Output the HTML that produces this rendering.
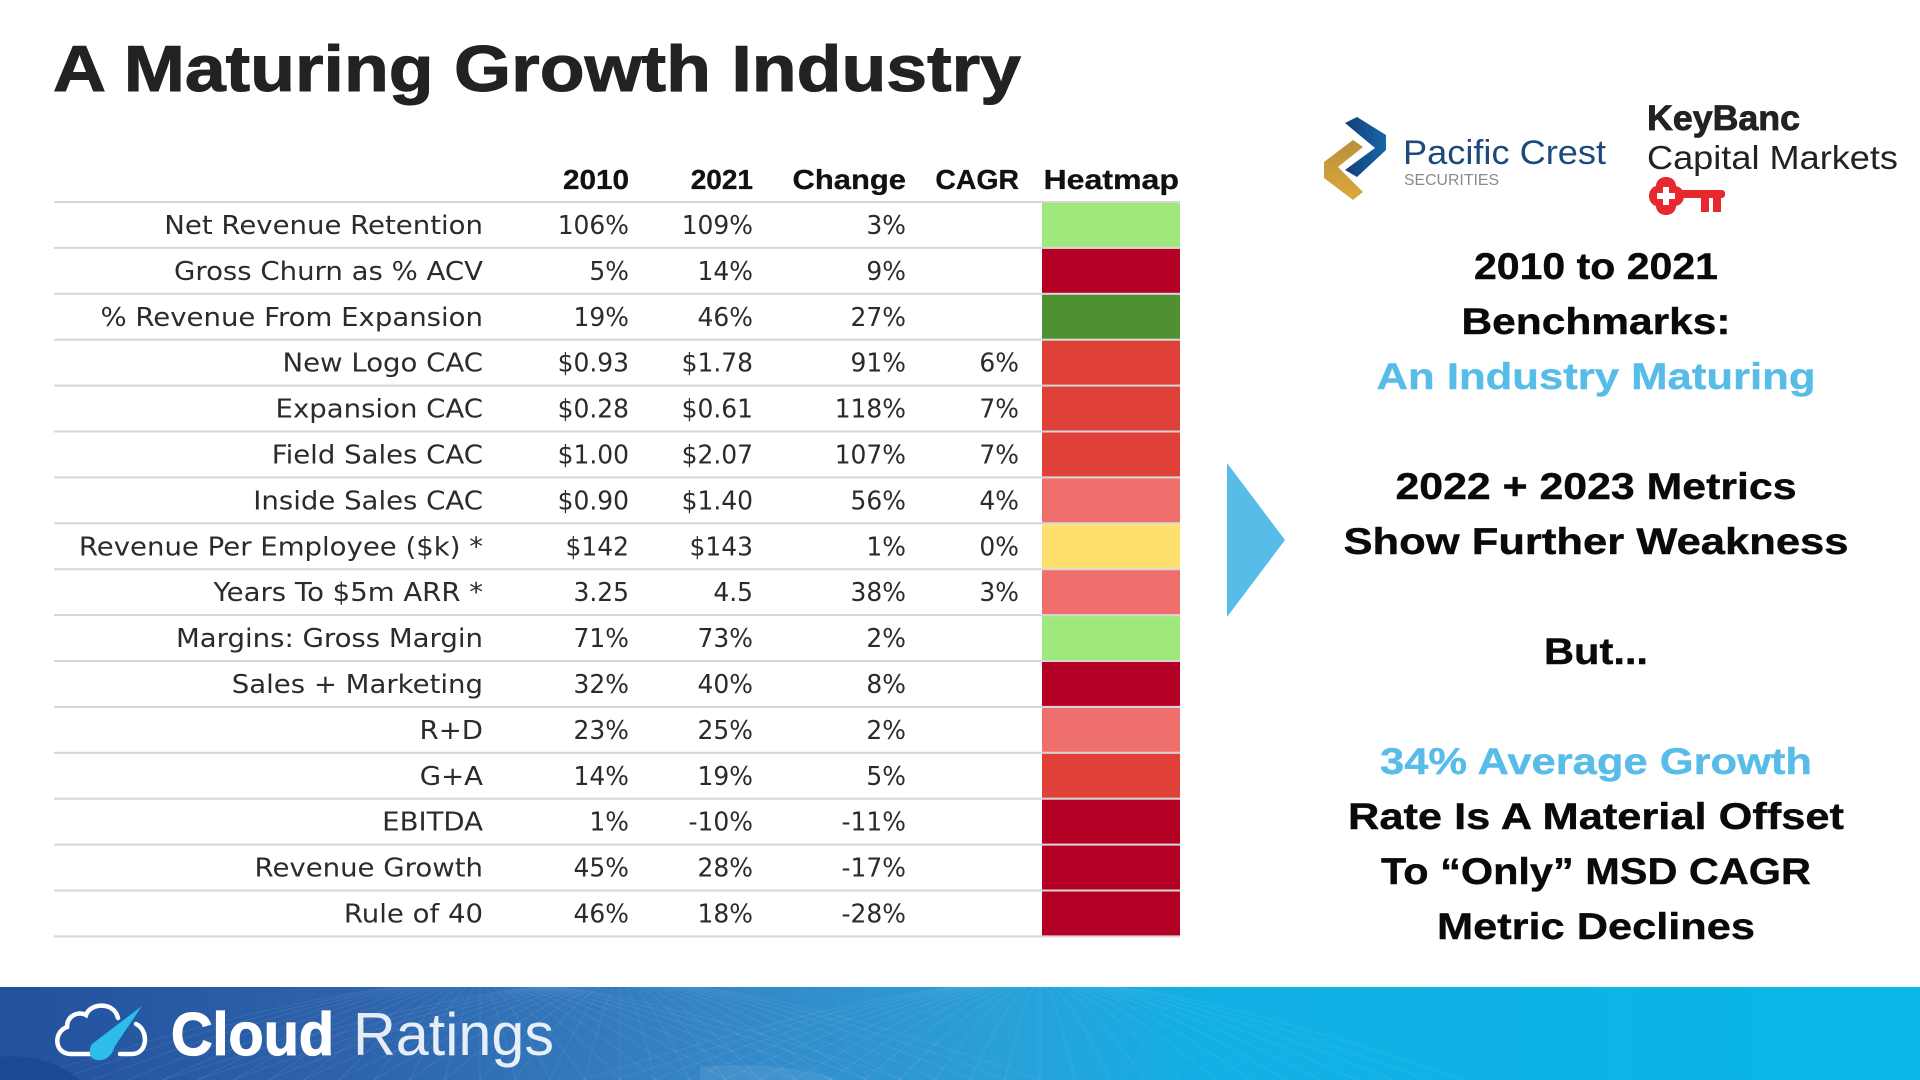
<!DOCTYPE html>
<html lang="en">
<head>
<meta charset="utf-8">
<title>A Maturing Growth Industry</title>
<style>
html,body{margin:0;padding:0;background:#fff;width:1920px;height:1080px;overflow:hidden}
svg{display:block}
text{font-family:"Liberation Sans",sans-serif}
.body{font-family:"DejaVu Sans","Liberation Sans",sans-serif;font-size:26px;fill:#2b2b2b}
.hdr{font-weight:700;font-size:28px;fill:#111;stroke:#111;stroke-width:.3px}
.side{font-weight:700;font-size:37px;fill:#0a0a0a;text-anchor:middle;stroke:#0a0a0a;stroke-width:.4px}
.side.blue{fill:#58bce9;stroke:#58bce9}
</style>
</head>
<body>
<svg id="slide" width="1920" height="1080" viewBox="0 0 1920 1080" xmlns="http://www.w3.org/2000/svg">
  <defs>
    <linearGradient id="footerGrad" x1="0" x2="1" y1="0" y2="0">
      <stop offset="0" stop-color="#23519d"/>
      <stop offset="0.18" stop-color="#2d62ab"/>
      <stop offset="0.37" stop-color="#3585c6"/>
      <stop offset="0.52" stop-color="#2aa0d8"/>
      <stop offset="0.63" stop-color="#12b0e5"/>
      <stop offset="1" stop-color="#09b6e7"/>
    </linearGradient>
    <linearGradient id="blueChevron" x1="0" x2="1" y1="0" y2="0">
      <stop offset="0" stop-color="#133f78"/>
      <stop offset="1" stop-color="#1866a8"/>
    </linearGradient>
    <linearGradient id="goldChevron" x1="0" x2="0" y1="0" y2="1">
      <stop offset="0" stop-color="#b98f3c"/>
      <stop offset="1" stop-color="#dba93c"/>
    </linearGradient>
  </defs>
  <rect width="1920" height="1080" fill="#fff"/>
  <text x="53" y="91" font-size="65" font-weight="700" fill="#222" stroke="#222" stroke-width="1" textLength="968" lengthAdjust="spacingAndGlyphs">A Maturing Growth Industry</text>

  <g id="table"></g>

  <polygon points="1227,463 1285,540 1227,617" fill="#58bce9"/>

  <g>
    <polygon points="1357,117 1386,135 1386,150 1357,177 1345,170 1375,148 1345,123" fill="url(#blueChevron)"/>
    <polygon points="1353,140 1363,147 1338,167 1363,192 1353,200 1324,178 1324,162" fill="url(#goldChevron)"/>
    <text x="1403" y="164" font-size="34" fill="#1d4a7c" textLength="203" lengthAdjust="spacingAndGlyphs">Pacific Crest</text>
    <text x="1404" y="185" font-size="16" fill="#8a8a8a" textLength="95" lengthAdjust="spacingAndGlyphs">SECURITIES</text>
  </g>
  <g>
    <text x="1647" y="130" font-size="35" font-weight="700" fill="#222" stroke="#222" stroke-width=".8" textLength="153" lengthAdjust="spacingAndGlyphs">KeyBanc</text>
    <text x="1647" y="169" font-size="33" fill="#222" textLength="251" lengthAdjust="spacingAndGlyphs">Capital Markets</text>
    <g fill="#e7282f">
      <path fill-rule="evenodd" d="M1666,177c6,0 10,4 10,9c5,1 8,5 8,10c0,5 -3,9 -8,10c0,5 -4,9 -10,9c-6,0 -10,-4 -10,-9c-4,-1 -7,-5 -7,-10c0,-5 3,-9 7,-10c0,-5 4,-9 10,-9z M1663,187v6h-6v6h6v6h6v-6h6v-6h-6v-6z"/>
      <rect x="1680" y="190" width="45" height="8" rx="3"/>
      <rect x="1701" y="197" width="8" height="15"/>
      <rect x="1713" y="197" width="8" height="15"/>
    </g>
  </g>

  <text class="side" x="1596" y="279" textLength="244" lengthAdjust="spacingAndGlyphs">2010 to 2021</text>
  <text class="side" x="1596" y="334" textLength="269" lengthAdjust="spacingAndGlyphs">Benchmarks:</text>
  <text class="side blue" x="1596" y="389" textLength="439" lengthAdjust="spacingAndGlyphs">An Industry Maturing</text>
  <text class="side" x="1596" y="499" textLength="401" lengthAdjust="spacingAndGlyphs">2022 + 2023 Metrics</text>
  <text class="side" x="1596" y="554" textLength="505" lengthAdjust="spacingAndGlyphs">Show Further Weakness</text>
  <text class="side" x="1596" y="664" textLength="104" lengthAdjust="spacingAndGlyphs">But...</text>
  <text class="side blue" x="1596" y="774" textLength="432" lengthAdjust="spacingAndGlyphs">34% Average Growth</text>
  <text class="side" x="1596" y="829" textLength="496" lengthAdjust="spacingAndGlyphs">Rate Is A Material Offset</text>
  <text class="side" x="1596" y="884" textLength="430" lengthAdjust="spacingAndGlyphs">To “Only” MSD CAGR</text>
  <text class="side" x="1596" y="939" textLength="318" lengthAdjust="spacingAndGlyphs">Metric Declines</text>

  <g>
    <rect x="0" y="987" width="1920" height="93" fill="url(#footerGrad)"/>
    <g id="footerPattern" fill="none" stroke="#fff" stroke-opacity="0.08" stroke-width="1"></g>
    <path d="M0,1057 C30,1054 58,1062 80,1080 L0,1080 Z" fill="#1c4a92"/>
    <path d="M700,1067 C745,1062 800,1066 838,1080 L700,1080 Z" fill="#fff" fill-opacity="0.08"/>
    <g>
      <path d="M100,1054 H71 C54,1054 53,1032 67,1027 C67,1015 79,1011 86,1015 C90,1003 114,1001 118,1018 M136,1024 C149,1030 148,1054 132,1054 H120" fill="none" stroke="#fff" stroke-width="4.5" stroke-linecap="round"/>
      <path d="M142,1006 L92,1044 C86,1054 92,1062 102,1060 C110,1058 113,1052 115,1046 Z" fill="#2cbdec"/>
      <text x="171" y="1055" font-size="60" font-weight="700" fill="#fff" stroke="#fff" stroke-width="1.2" textLength="163" lengthAdjust="spacingAndGlyphs">Cloud</text>
      <text x="353" y="1055" font-size="60" font-weight="300" fill="#fff" fill-opacity="0.88" textLength="201" lengthAdjust="spacingAndGlyphs">Ratings</text>
    </g>
  </g>
</svg>
<script>
// ---- table data ----
const columns = ["2010", "2021", "Change", "CAGR", "Heatmap"];
const metrics = ["Net Revenue Retention", "Gross Churn as % ACV", "% Revenue From Expansion", "New Logo CAC", "Expansion CAC", "Field Sales CAC", "Inside Sales CAC", "Revenue Per Employee ($k) *", "Years To $5m ARR *", "Margins: Gross Margin", "Sales + Marketing", "R+D", "G+A", "EBITDA", "Revenue Growth", "Rule of 40"];
const values2010 = ["106%", "5%", "19%", "$0.93", "$0.28", "$1.00", "$0.90", "$142", "3.25", "71%", "32%", "23%", "14%", "1%", "45%", "46%"];
const values2021 = ["109%", "14%", "46%", "$1.78", "$0.61", "$2.07", "$1.40", "$143", "4.5", "73%", "40%", "25%", "19%", "-10%", "28%", "18%"];
const changes = ["3%", "9%", "27%", "91%", "118%", "107%", "56%", "1%", "38%", "2%", "8%", "2%", "5%", "-11%", "-17%", "-28%"];
const cagrs = ["", "", "", "6%", "7%", "7%", "4%", "0%", "3%", "", "", "", "", "", "", ""];
// heat rating per metric: 2 strong positive ... -3 strong negative
const heatRatings = [1, -3, 2, -2, -2, -2, -1, 0, -1, 1, -3, -1, -2, -3, -3, -3];

// ---- axis functions ----
const tableLeft = 54, tableRight = 1180, firstLine = 202, rowStep = 45.9;
const SVGNS = "http://www.w3.org/2000/svg";
const table = document.getElementById("table");
function rowTop(i) { return firstLine + i * rowStep; }
function rowBaseline(i) { return rowTop(i) + 32; }
function columnRight(c) { return { label: 483, "2010": 629, "2021": 753, Change: 906, CAGR: 1019, Heatmap: 1179 }[c]; }
function headerScale(c) { return { "2010": 1.06, "2021": 1.0, Change: 1.105, CAGR: 1.015, Heatmap: 1.147 }[c]; }
function heatColor(r) {
  if (r >= 2) return "#4f9130";
  if (r === 1) return "#9ee87c";
  if (r === 0) return "#ffdf6e";
  if (r === -1) return "#ee6f6b";
  if (r === -2) return "#df4038";
  return "#b30024";
}
function addText(parent, str, right, y, cls, sx) {
  const t = document.createElementNS(SVGNS, "text");
  t.setAttribute("class", cls);
  t.setAttribute("text-anchor", "end");
  t.setAttribute("transform", "translate(" + right + "," + y + ") scale(" + sx + ",1)");
  t.textContent = str;
  parent.appendChild(t);
  return t;
}

// rule lines
for (let i = 0; i <= metrics.length; i++) {
  const line = document.createElementNS(SVGNS, "rect");
  line.setAttribute("x", tableLeft);
  line.setAttribute("y", rowTop(i) - 1);
  line.setAttribute("width", tableRight - tableLeft);
  line.setAttribute("height", 2);
  line.setAttribute("fill", "#d6d6d6");
  
  
  table.appendChild(line);
}

// header
columns.forEach(function (c) {
  const h = addText(table, c, columnRight(c), 189, "hdr", headerScale(c));
  
  
});

// rows
metrics.forEach(function (m, i) {
  const y = rowBaseline(i);
  const lab = addText(table, m, columnRight("label"), y, "body", 1.06);
  
  
  const a = addText(table, values2010[i], columnRight("2010"), y, "body", 0.96);
  
  
  const b = addText(table, values2021[i], columnRight("2021"), y, "body", 0.96);
  
  
  const ch = addText(table, changes[i], columnRight("Change"), y, "body", 0.96);
  
  
  if (cagrs[i]) {
    const cg = addText(table, cagrs[i], columnRight("CAGR"), y, "body", 0.96);
    
    
  }
  const cell = document.createElementNS(SVGNS, "rect");
  cell.setAttribute("x", 1042);
  cell.setAttribute("y", rowTop(i) + 1);
  cell.setAttribute("width", 138);
  cell.setAttribute("height", rowStep - 2);
  cell.setAttribute("fill", heatColor(heatRatings[i]));
  
  
  table.appendChild(cell);
});

// decorative footer mesh
const pattern = document.getElementById("footerPattern");
[[480, 1180], [620, 900], [1040, 520]].forEach(function (f) {
  for (let k = 0; k < 26; k++) {
    const p = document.createElementNS(SVGNS, "path");
    const dx = (k - 13) * 16;
    p.setAttribute("d", "M" + (f[0] + dx * 2.2) + ",1080 Q" + (f[0] + dx) + ",1000 " + (f[0] + dx * 0.4) + ",987");
    pattern.appendChild(p);
  }
});
</script>
</body>
</html>
